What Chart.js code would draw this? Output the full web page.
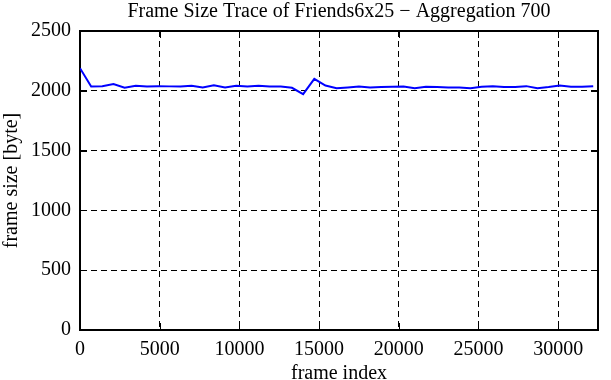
<!DOCTYPE html>
<html>
<head>
<meta charset="utf-8">
<script src="https://cdn.jsdelivr.net/npm/chart.js@4/dist/chart.umd.min.js"></script>
<style>
html,body{margin:0;padding:0;background:#fff;}
canvas{display:block;}
</style>
</head>
<body>
<canvas id="c" width="611" height="380"></canvas>
<script>
// ---- data ----
const frameIndex = [0,700,1400,2100,2800,3500,4200,4900,5600,6300,7000,7700,8400,9100,9800,10500,11200,11900,12600,13300,14000,14700,15400,16100,16800,17500,18200,18900,19600,20300,21000,21700,22400,23100,23800,24500,25200,25900,26600,27300,28000,28700,29400,30100,30800,31500,32200];
const frameSize = [2189,2036,2039,2056,2025,2042,2036,2039,2037,2036,2042,2028,2047,2028,2042,2036,2042,2036,2036,2025,1972,2100,2044,2022,2028,2036,2028,2031,2033,2036,2022,2033,2031,2028,2028,2022,2033,2039,2031,2031,2039,2022,2031,2044,2033,2033,2039];
const xTicks = [0,5000,10000,15000,20000,25000,30000];
const yTicks = [0,500,1000,1500,2000,2500];
const xMax = 32500;
const yMax = 2500;
const titleText = 'Frame Size Trace of Friends6x25 \u2212 Aggregation 700';
const xTitle = 'frame index';
const yTitle = 'frame size [byte]';

const FONT = "'Liberation Serif', 'Times New Roman', serif";
Chart.defaults.font.family = FONT;
Chart.defaults.color = '#000';

const frame = {
  id: 'frame',
  afterDatasetsDraw(chart) {
    const {ctx, chartArea: a, scales: {x, y}} = chart;
    ctx.save();
    ctx.strokeStyle = '#000';
    ctx.setLineDash([]);
    ctx.lineWidth = 2;
    ctx.beginPath();
    ctx.moveTo(a.left - 1, a.top); ctx.lineTo(a.right + 1, a.top);
    ctx.moveTo(a.right, a.top); ctx.lineTo(a.right, a.bottom);
    ctx.stroke();
    ctx.lineWidth = 1;
    const L = 7;
    ctx.beginPath();
    yTicks.forEach(v => {
      const py = Math.round(y.getPixelForValue(v)) + 0.5;
      ctx.moveTo(a.left, py); ctx.lineTo(a.left + L, py);
      ctx.moveTo(a.right, py); ctx.lineTo(a.right - L, py);
    });
    xTicks.forEach(v => {
      const px = Math.round(x.getPixelForValue(v)) + 0.5;
      ctx.moveTo(px, a.bottom); ctx.lineTo(px, a.bottom - L);
      ctx.moveTo(px, a.top); ctx.lineTo(px, a.top + L);
    });
    ctx.stroke();
    // title centred over the plot area
    ctx.fillStyle = '#000';
    ctx.font = '20px ' + FONT;
    ctx.textAlign = 'center';
    ctx.textBaseline = 'middle';
    ctx.fillText(titleText, (a.left + a.right) / 2, 12);
    ctx.restore();
  }
};

new Chart(document.getElementById('c'), {
  type: 'line',
  data: {
    datasets: [{
      data: frameIndex.map((f, i) => ({x: f, y: frameSize[i]})),
      borderColor: '#0000ff',
      borderWidth: 2,
      pointRadius: 0,
      tension: 0,
      fill: false
    }]
  },
  options: {
    responsive: false,
    animation: false,
    devicePixelRatio: 1,
    layout: {padding: {left: 0, right: 13, top: 31, bottom: 0}},
    plugins: {
      legend: {display: false},
      tooltip: {enabled: false},
      title: {display: false}
    },
    scales: {
      x: {
        type: 'linear',
        min: 0,
        max: xMax,
        afterBuildTicks: s => { s.ticks = xTicks.map(v => ({value: v})); },
        afterFit: s => { s.height = 50; },
        grid: {color: '#000', lineWidth: 1, drawTicks: false},
        border: {display: true, color: '#000', width: 2, dash: [6, 4]},
        ticks: {font: {size: 20}, color: '#000', padding: 8, maxRotation: 0, autoSkip: false, callback: v => String(v)},
        title: {display: true, text: xTitle, color: '#000', font: {size: 20, lineHeight: 0.6}, padding: {top: 0, bottom: 0}}
      },
      y: {
        min: 0,
        max: yMax,
        afterBuildTicks: s => { s.ticks = yTicks.map(v => ({value: v})); },
        afterFit: s => { s.width = 80; },
        grid: {color: '#000', lineWidth: 1, drawTicks: false},
        border: {display: true, color: '#000', width: 2, dash: [6, 4]},
        ticks: {font: {size: 20}, color: '#000', padding: 9, autoSkip: false, callback: v => String(v)},
        title: {display: true, text: yTitle, color: '#000', font: {size: 20}, padding: {top: 0, bottom: 0}}
      }
    }
  },
  plugins: [frame]
});
</script>
</body>
</html>
